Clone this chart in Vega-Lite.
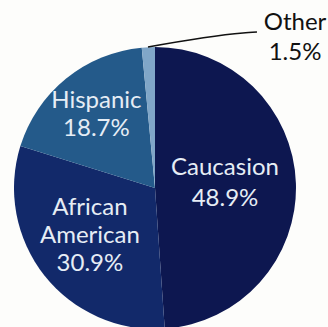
{
  "$schema": "https://vega.github.io/schema/vega-lite/v6.json",
  "width": 310,
  "height": 376,
  "autosize": "none",
  "padding": {"left": 0, "top": 0, "right": 18, "bottom": -49},
  "background": "#fdfdfb",
  "view": {"stroke": null},
  "datasets": {
    "groups": [
      {"name": "Caucasion", "share": 48.9, "rank": 1, "label": "Caucasion|48.9%"},
      {"name": "African American", "share": 30.9, "rank": 2, "label": "African|American|30.9%"},
      {"name": "Hispanic", "share": 18.7, "rank": 3, "label": "Hispanic|18.7%"},
      {"name": "Other", "share": 1.5, "rank": 4, "label": "Other|1.5%"}
    ],
    "leader": [
      {"px": 148, "py": 47},
      {"px": 243, "py": 33},
      {"px": 257, "py": 32}
    ]
  },
  "layer": [
    {
      "data": {"name": "groups"},
      "mark": {"type": "arc", "outerRadius": 141},
      "encoding": {
        "theta": {"field": "share", "type": "quantitative", "stack": true},
        "order": {"field": "rank", "type": "quantitative"},
        "color": {
          "field": "name", "type": "nominal", "legend": null,
          "scale": {"domain": ["Caucasion", "African American", "Hispanic", "Other"],
                    "range": ["#0d1750", "#12296a", "#245a8a", "#80a6c8"]}
        }
      }
    },
    {
      "data": {"name": "groups"},
      "mark": {"type": "text", "radius": 70, "dy": -18, "font": "Lato", "fontSize": 24, "fontWeight": 400, "lineBreak": "|", "lineHeight": 31.5, "color": "#e6edf5", "align": "center", "baseline": "middle"},
      "encoding": {
        "theta": {"field": "share", "type": "quantitative", "stack": true},
        "order": {"field": "rank", "type": "quantitative"},
        "text": {"condition": {"test": "datum.name === 'Caucasion'", "field": "label"}, "value": ""}
      }
    },
    {
      "data": {"name": "groups"},
      "mark": {"type": "text", "radius": 83, "dy": -31, "font": "Lato", "fontSize": 24, "fontWeight": 400, "lineBreak": "|", "lineHeight": 28, "color": "#e6edf5", "align": "center", "baseline": "middle"},
      "encoding": {
        "theta": {"field": "share", "type": "quantitative", "stack": true},
        "order": {"field": "rank", "type": "quantitative"},
        "text": {"condition": {"test": "datum.name === 'African American'", "field": "label"}, "value": ""}
      }
    },
    {
      "data": {"name": "groups"},
      "mark": {"type": "text", "radius": 93, "dy": -15, "font": "Lato", "fontSize": 24, "fontWeight": 400, "lineBreak": "|", "lineHeight": 28, "color": "#e6edf5", "align": "center", "baseline": "middle"},
      "encoding": {
        "theta": {"field": "share", "type": "quantitative", "stack": true},
        "order": {"field": "rank", "type": "quantitative"},
        "text": {"condition": {"test": "datum.name === 'Hispanic'", "field": "label"}, "value": ""}
      }
    },
    {
      "data": {"name": "groups"},
      "transform": [{"filter": "datum.name === 'Other'"}],
      "mark": {"type": "text", "radius": 205, "theta": 0.752, "dy": -15, "font": "Lato", "fontSize": 24, "fontWeight": 400, "lineBreak": "|", "lineHeight": 30, "color": "#111111", "align": "center", "baseline": "middle"},
      "encoding": {
        "text": {"field": "label", "type": "nominal"}
      }
    },
    {
      "data": {"name": "leader"},
      "mark": {"type": "line", "color": "#111111", "strokeWidth": 1.6, "interpolate": "monotone"},
      "encoding": {
        "x": {"field": "px", "type": "quantitative", "axis": null, "scale": {"domain": [0, 310], "nice": false, "zero": false}},
        "y": {"field": "py", "type": "quantitative", "axis": null, "scale": {"domain": [376, 0], "nice": false, "zero": false}}
      }
    }
  ]
}
